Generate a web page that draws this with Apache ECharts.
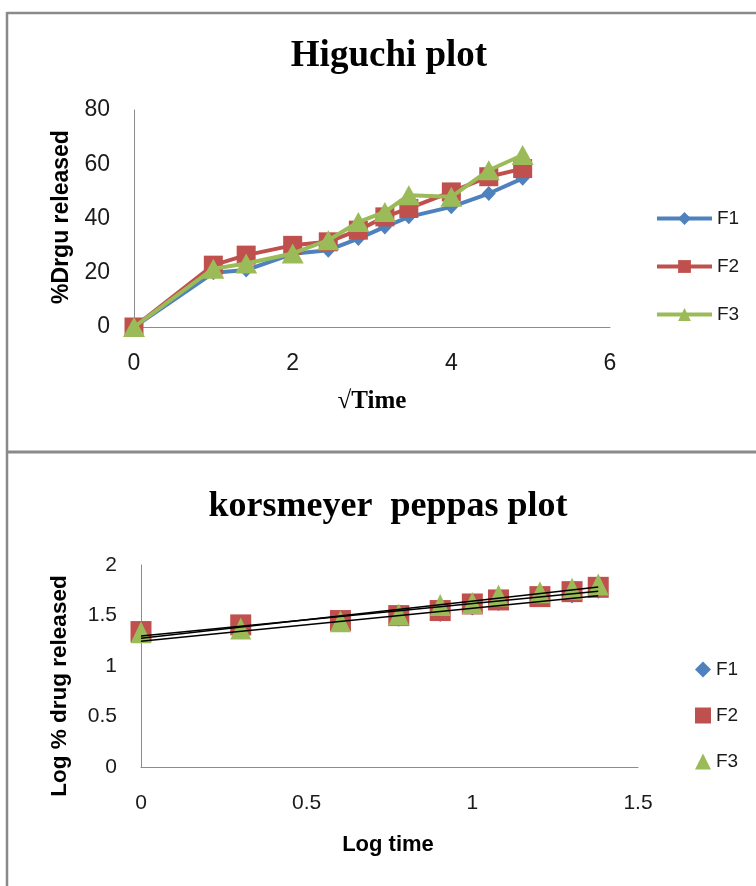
<!DOCTYPE html>
<html>
<head>
<meta charset="utf-8">
<script src="https://cdn.jsdelivr.net/npm/echarts@6/dist/echarts.min.js"></script>
<style>
html,body{margin:0;padding:0;background:#fff;}
#chart{width:756px;height:886px;}
</style>
</head>
<body>
<div id="chart"></div>
<script>
// ---- Data ----
var seriesNames = ['F1', 'F2', 'F3'];
// Higuchi plot: x = sqrt(time)
var sqrtTime = [0, 1, 1.414, 2, 2.449, 2.828, 3.162, 3.464, 4, 4.472, 4.899];
var higF1 = [0, 20, 21, 27, 28.3, 32.6, 36.9, 40.6, 44.3, 49.2, 54.8];
var higF2 = [0, 22.8, 26.5, 30.1, 31.4, 35.7, 40.6, 43.7, 49.8, 55.4, 58.4];
var higF3 = [0, 21.5, 23.4, 27.1, 32, 38.7, 42.4, 48.6, 48, 57.8, 63.4];
// Korsmeyer-Peppas plot: x = log time
var logTime = [0, 0.301, 0.602, 0.778, 0.903, 1, 1.079, 1.204, 1.301, 1.380];
var kpF1 = [1.295, 1.328, 1.43, 1.453, 1.499, 1.565, 1.608, 1.651, 1.684, 1.730];
var kpF2 = [1.341, 1.407, 1.450, 1.499, 1.549, 1.614, 1.654, 1.687, 1.736, 1.779];
var kpF3 = [1.334, 1.371, 1.443, 1.509, 1.605, 1.624, 1.697, 1.730, 1.766, 1.806];
// Axis ticks
var higXTicks = {min: 0, max: 6, interval: 2};
var higYTicks = {min: 0, max: 80, interval: 20};
var kpXTicks = {min: 0, max: 1.5, interval: 0.5};
var kpYTicks = {min: 0, max: 2, interval: 0.5};

// ---- Styles ----
var colors = ['#4F81BD', '#C0504D', '#9BBB59'];
var symbols = ['diamond', 'rect', 'triangle'];
var tickFont = '"Liberation Sans", sans-serif';
var axisColor = '#8c8c8c';

function pairs(xs, ys) { return xs.map(function (x, i) { return [x, ys[i]]; }); }
function linFit(xs, ys) {
  var n = xs.length, sx = 0, sy = 0, sxx = 0, sxy = 0;
  for (var i = 0; i < n; i++) { sx += xs[i]; sy += ys[i]; sxx += xs[i] * xs[i]; sxy += xs[i] * ys[i]; }
  var b = (n * sxy - sx * sy) / (n * sxx - sx * sx);
  var a = (sy - b * sx) / n;
  var x0 = Math.min.apply(null, xs), x1 = Math.max.apply(null, xs);
  return [[x0, a + b * x0], [x1, a + b * x1]];
}

function makeAxis(t, grid, fontSize, margin) {
  return {
    type: 'value', gridIndex: grid, min: t.min, max: t.max, interval: t.interval,
    axisLine: {show: true, onZero: false, lineStyle: {color: axisColor, width: 1}},
    axisTick: {show: false},
    splitLine: {show: false},
    axisLabel: {color: '#1a1a1a', fontFamily: tickFont, fontSize: fontSize, margin: margin}
  };
}

var higData = [higF1, higF2, higF3];
var kpData = [kpF1, kpF2, kpF3];
var higSizes = [[14, 15], [19, 19], [22, 20]];
var kpSizes = [[13, 13], [21, 21], [21, 22]];

var series = [];
for (var i = 0; i < 3; i++) {
  series.push({
    name: seriesNames[i], type: 'line', xAxisIndex: 0, yAxisIndex: 0,
    data: pairs(sqrtTime, higData[i]),
    symbol: symbols[i], symbolSize: higSizes[i], showAllSymbol: true,
    lineStyle: {color: colors[i], width: 4},
    itemStyle: {color: colors[i], opacity: 1},
    z: 2 + i, animation: false
  });
}
for (var j = 0; j < 3; j++) {
  series.push({
    name: seriesNames[j] + ' ', type: 'scatter', xAxisIndex: 1, yAxisIndex: 1,
    data: pairs(logTime, kpData[j]),
    symbol: symbols[j], symbolSize: kpSizes[j],
    itemStyle: {color: colors[j], opacity: 1},
    z: 2 + j, animation: false
  });
}
for (var k = 0; k < 3; k++) {
  series.push({
    type: 'line', xAxisIndex: 1, yAxisIndex: 1,
    data: linFit(logTime, kpData[k]),
    symbol: 'none', silent: true,
    lineStyle: {color: '#000', width: 1.5},
    z: 10, animation: false
  });
}

var legendText = {fontFamily: tickFont, fontSize: 19, color: '#1a1a1a', lineHeight: 16};

var option = {
  animation: false,
  backgroundColor: '#fff',
  grid: [
    {left: 134, top: 110, width: 476, height: 217},
    {left: 141, top: 565, width: 497, height: 202}
  ],
  xAxis: [makeAxis(higXTicks, 0, 23, 25), makeAxis(kpXTicks, 1, 21, 26)],
  yAxis: [makeAxis(higYTicks, 0, 23, 24), makeAxis(kpYTicks, 1, 21, 24)],
  legend: [
    {
      data: seriesNames.slice(),
      orient: 'vertical', left: 650, top: 204, itemWidth: 55, itemHeight: 16, itemGap: 29,
      lineStyle: {width: 4},
      textStyle: legendText, selectedMode: false
    },
    {
      data: seriesNames.map(function (n) { return n + ' '; }),
      orient: 'vertical', left: 690, top: 655, itemWidth: 16, itemHeight: 16, itemGap: 27,
      formatter: function (n) { return n.trim(); },
      itemStyle: {opacity: 1},
      textStyle: legendText, selectedMode: false
    }
  ],
  series: series,
  graphic: [
    {type: 'line', shape: {x1: 7, y1: 12, x2: 7, y2: 886}, style: {stroke: '#8a8a8a', lineWidth: 2.5}, silent: true},
    {type: 'line', shape: {x1: 7, y1: 13, x2: 756, y2: 13}, style: {stroke: '#8a8a8a', lineWidth: 2.5}, silent: true},
    {type: 'line', shape: {x1: 7, y1: 452, x2: 756, y2: 452}, style: {stroke: '#8a8a8a', lineWidth: 3}, silent: true},
    {type: 'text', x: 389, y: 56, style: {text: 'Higuchi plot', font: 'bold 37px "Liberation Serif", serif', fill: '#000', align: 'center', verticalAlign: 'middle'}},
    {type: 'text', x: 388, y: 507, style: {text: 'korsmeyer  peppas plot', font: 'bold 36px "Liberation Serif", serif', fill: '#000', align: 'center', verticalAlign: 'middle'}},
    {type: 'text', x: 372, y: 402, style: {text: '\u221ATime', font: 'bold 25px "Liberation Serif", serif', fill: '#000', align: 'center', verticalAlign: 'middle'}},
    {type: 'text', x: 62, y: 217, rotation: Math.PI / 2, style: {text: '%Drgu released', font: 'bold 23px "Liberation Sans", sans-serif', fill: '#000', align: 'center', verticalAlign: 'middle'}},
    {type: 'text', x: 60, y: 686, rotation: Math.PI / 2, style: {text: 'Log % drug released', font: 'bold 22.5px "Liberation Sans", sans-serif', fill: '#000', align: 'center', verticalAlign: 'middle'}},
    {type: 'text', x: 388, y: 845, style: {text: 'Log time', font: 'bold 22px "Liberation Sans", sans-serif', fill: '#000', align: 'center', verticalAlign: 'middle'}}
  ]
};

var chart = echarts.init(document.getElementById('chart'), null, {renderer: 'canvas'});
chart.setOption(option);
</script>
</body>
</html>
